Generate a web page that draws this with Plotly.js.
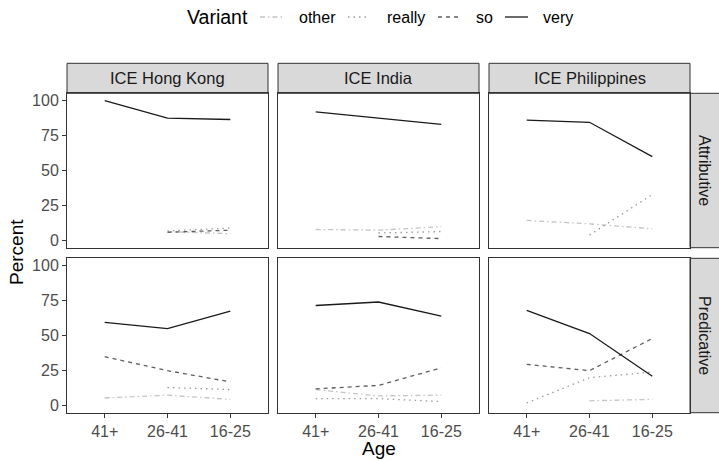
<!DOCTYPE html>
<html><head><meta charset="utf-8">
<script src="https://cdn.plot.ly/plotly-3.0.1.min.js"></script>
<style>html,body{margin:0;padding:0;background:#fff}#chart{width:719px;height:461px}</style>
</head><body><div id="chart"></div>
<script>
// ---- data ----
const ages = ['41+', '26-41', '16-25'];
const varieties = ['ICE Hong Kong', 'ICE India', 'ICE Philippines'];
const functions = ['Attributive', 'Predicative'];
const variants = ['other', 'really', 'so', 'very'];
const yTicks = [0, 25, 50, 75, 100];

// Attributive
const hkAttrOther  = [null, 6.5, 5];
const hkAttrReally = [null, 7, 9];
const hkAttrSo     = [null, 6, 7.5];
const hkAttrVery   = [100, 87.5, 86.5];

const inAttrOther  = [8, 7.5, 10];
const inAttrReally = [null, 5.5, 6.5];
const inAttrSo     = [null, 3, 1.5];
const inAttrVery   = [92, 87.5, 83];

const phAttrOther  = [14.5, 12, 8.5];
const phAttrReally = [null, 4, 33];
const phAttrSo     = [null, null, null];
const phAttrVery   = [86, 84.5, 60];

// Predicative
const hkPredOther  = [5.5, 7.5, 4.5];
const hkPredReally = [null, 13, 11.5];
const hkPredSo     = [35, 25, 17];
const hkPredVery   = [59.5, 55, 67.5];

const inPredOther  = [11.5, 7, 7.5];
const inPredReally = [5, 5, 3];
const inPredSo     = [12, 14.5, 27];
const inPredVery   = [71.5, 74, 64];

const phPredOther  = [null, 3.5, 4.5];
const phPredReally = [2, 20, 24];
const phPredSo     = [29.5, 25, 48];
const phPredVery   = [68, 51.5, 21];

const table = [
  [ [hkAttrOther, hkAttrReally, hkAttrSo, hkAttrVery],
    [inAttrOther, inAttrReally, inAttrSo, inAttrVery],
    [phAttrOther, phAttrReally, phAttrSo, phAttrVery] ],
  [ [hkPredOther, hkPredReally, hkPredSo, hkPredVery],
    [inPredOther, inPredReally, inPredSo, inPredVery],
    [phPredOther, phPredReally, phPredSo, phPredVery] ]
];

// ---- styles ----
const W = 719, H = 461;
const FONT = 'Liberation Sans, Arial, sans-serif';
const lineStyle = {
  other:  {color: '#c4c4c4', dash: '5px,3px,1.5px,3px'},
  really: {color: '#9a9a9a', dash: '1.5px,4px'},
  so:     {color: '#5e5e5e', dash: '4px,4px'},
  very:   {color: '#1a1a1a', dash: 'solid'}
};
const colPx = [[67, 268], [278, 479], [489, 690]];
const rowPx = [[93.3, 247.7], [258.3, 412.7]];
const stripTop = 63.3;
const legendKeyPx = {other: [260, 282], really: [348, 370], so: [438, 460], very: [505, 528]};
const legendTextPx = {other: 297, really: 385, so: 474, very: 541};
const legendY = 17;
const px = x => x / W;
const py = y => 1 - y / H;

const traces = [];
const layout = {
  width: W, height: H,
  margin: {l: 0, r: 0, t: 0, b: 0},
  paper_bgcolor: '#fff', plot_bgcolor: '#fff',
  font: {family: FONT, size: 16, color: '#4d4d4d'},
  showlegend: false,
  shapes: [], annotations: []
};

for (let r = 0; r < 2; r++) {
  for (let c = 0; c < 3; c++) {
    const i = r * 3 + c + 1;
    const xa = 'xaxis' + (i === 1 ? '' : i), ya = 'yaxis' + (i === 1 ? '' : i);
    const xref = 'x' + (i === 1 ? '' : i), yref = 'y' + (i === 1 ? '' : i);
    layout[xa] = {
      domain: [px(colPx[c][0]), px(colPx[c][1])], anchor: yref,
      type: 'category', categoryorder: 'array', categoryarray: ages,
      range: [-0.6, 2.6], showgrid: false, zeroline: false,
      showline: true, mirror: true, linecolor: '#333', linewidth: 1,
      ticks: r === 1 ? 'outside' : '', ticklen: 4, tickcolor: '#333', tickwidth: 1,
      showticklabels: r === 1, tickfont: {size: 16, color: '#4d4d4d'}, fixedrange: true
    };
    layout[ya] = {
      domain: [py(rowPx[r][1]), py(rowPx[r][0])], anchor: xref,
      range: [-5, 105.2], showgrid: false, zeroline: false,
      tickvals: yTicks, ticktext: yTicks.map(String),
      showline: true, mirror: true, linecolor: '#333', linewidth: 1,
      ticks: c === 0 ? 'outside' : '', ticklen: 4, tickcolor: '#333', tickwidth: 1,
      showticklabels: c === 0, tickfont: {size: 16, color: '#4d4d4d'}, fixedrange: true
    };
    variants.forEach((v, k) => {
      traces.push({
        type: 'scatter', mode: 'lines', name: v,
        x: ages, y: table[r][c][k], xaxis: xref, yaxis: yref,
        line: {color: lineStyle[v].color, dash: lineStyle[v].dash, width: 1.3},
        connectgaps: false, hoverinfo: 'skip'
      });
    });
  }
}

// top strips
for (let c = 0; c < 3; c++) {
  layout.shapes.push({type: 'rect', xref: 'paper', yref: 'paper',
    x0: px(colPx[c][0]), x1: px(colPx[c][1]), y0: py(rowPx[0][0]), y1: py(stripTop),
    fillcolor: '#d9d9d9', line: {color: '#333', width: 1}, layer: 'below'});
  layout.annotations.push({xref: 'paper', yref: 'paper',
    x: px((colPx[c][0] + colPx[c][1]) / 2), y: py((stripTop + rowPx[0][0]) / 2),
    text: varieties[c], showarrow: false, xanchor: 'center', yanchor: 'middle',
    font: {size: 16.5, color: '#1a1a1a'}});
}
// right strips
for (let r = 0; r < 2; r++) {
  layout.shapes.push({type: 'rect', xref: 'paper', yref: 'paper',
    x0: px(colPx[2][1]), x1: px(720), y0: py(rowPx[r][1]), y1: py(rowPx[r][0]),
    fillcolor: '#d9d9d9', line: {color: '#333', width: 1}, layer: 'below'});
  layout.annotations.push({xref: 'paper', yref: 'paper',
    x: px((colPx[2][1] + 719) / 2), y: py((rowPx[r][0] + rowPx[r][1]) / 2),
    text: functions[r], showarrow: false, textangle: 90, xanchor: 'center', yanchor: 'middle',
    font: {size: 16, color: '#1a1a1a'}});
}
// axis titles
layout.annotations.push({xref: 'paper', yref: 'paper', x: px(17), y: py(252),
  text: 'Percent', showarrow: false, textangle: -90, xanchor: 'center', yanchor: 'middle',
  font: {size: 19, color: '#000'}});
layout.annotations.push({xref: 'paper', yref: 'paper', x: px(378.5), y: py(448),
  text: 'Age', showarrow: false, xanchor: 'center', yanchor: 'middle',
  font: {size: 19, color: '#000'}});

// legend (drawn as keys + labels)
layout.annotations.push({xref: 'paper', yref: 'paper', x: px(185), y: py(legendY),
  text: 'Variant', showarrow: false, xanchor: 'left', yanchor: 'middle',
  font: {size: 19.5, color: '#000'}});
variants.forEach(v => {
  layout.shapes.push({type: 'line', xref: 'paper', yref: 'paper',
    x0: px(legendKeyPx[v][0]), x1: px(legendKeyPx[v][1]), y0: py(legendY), y1: py(legendY),
    line: {color: lineStyle[v].color, dash: lineStyle[v].dash, width: 1.3}});
  layout.annotations.push({xref: 'paper', yref: 'paper', x: px(legendTextPx[v]), y: py(legendY),
    text: v, showarrow: false, xanchor: 'left', yanchor: 'middle',
    font: {size: 16, color: '#000'}});
});

Plotly.newPlot('chart', traces, layout, {staticPlot: true, displayModeBar: false});
</script></body></html>
